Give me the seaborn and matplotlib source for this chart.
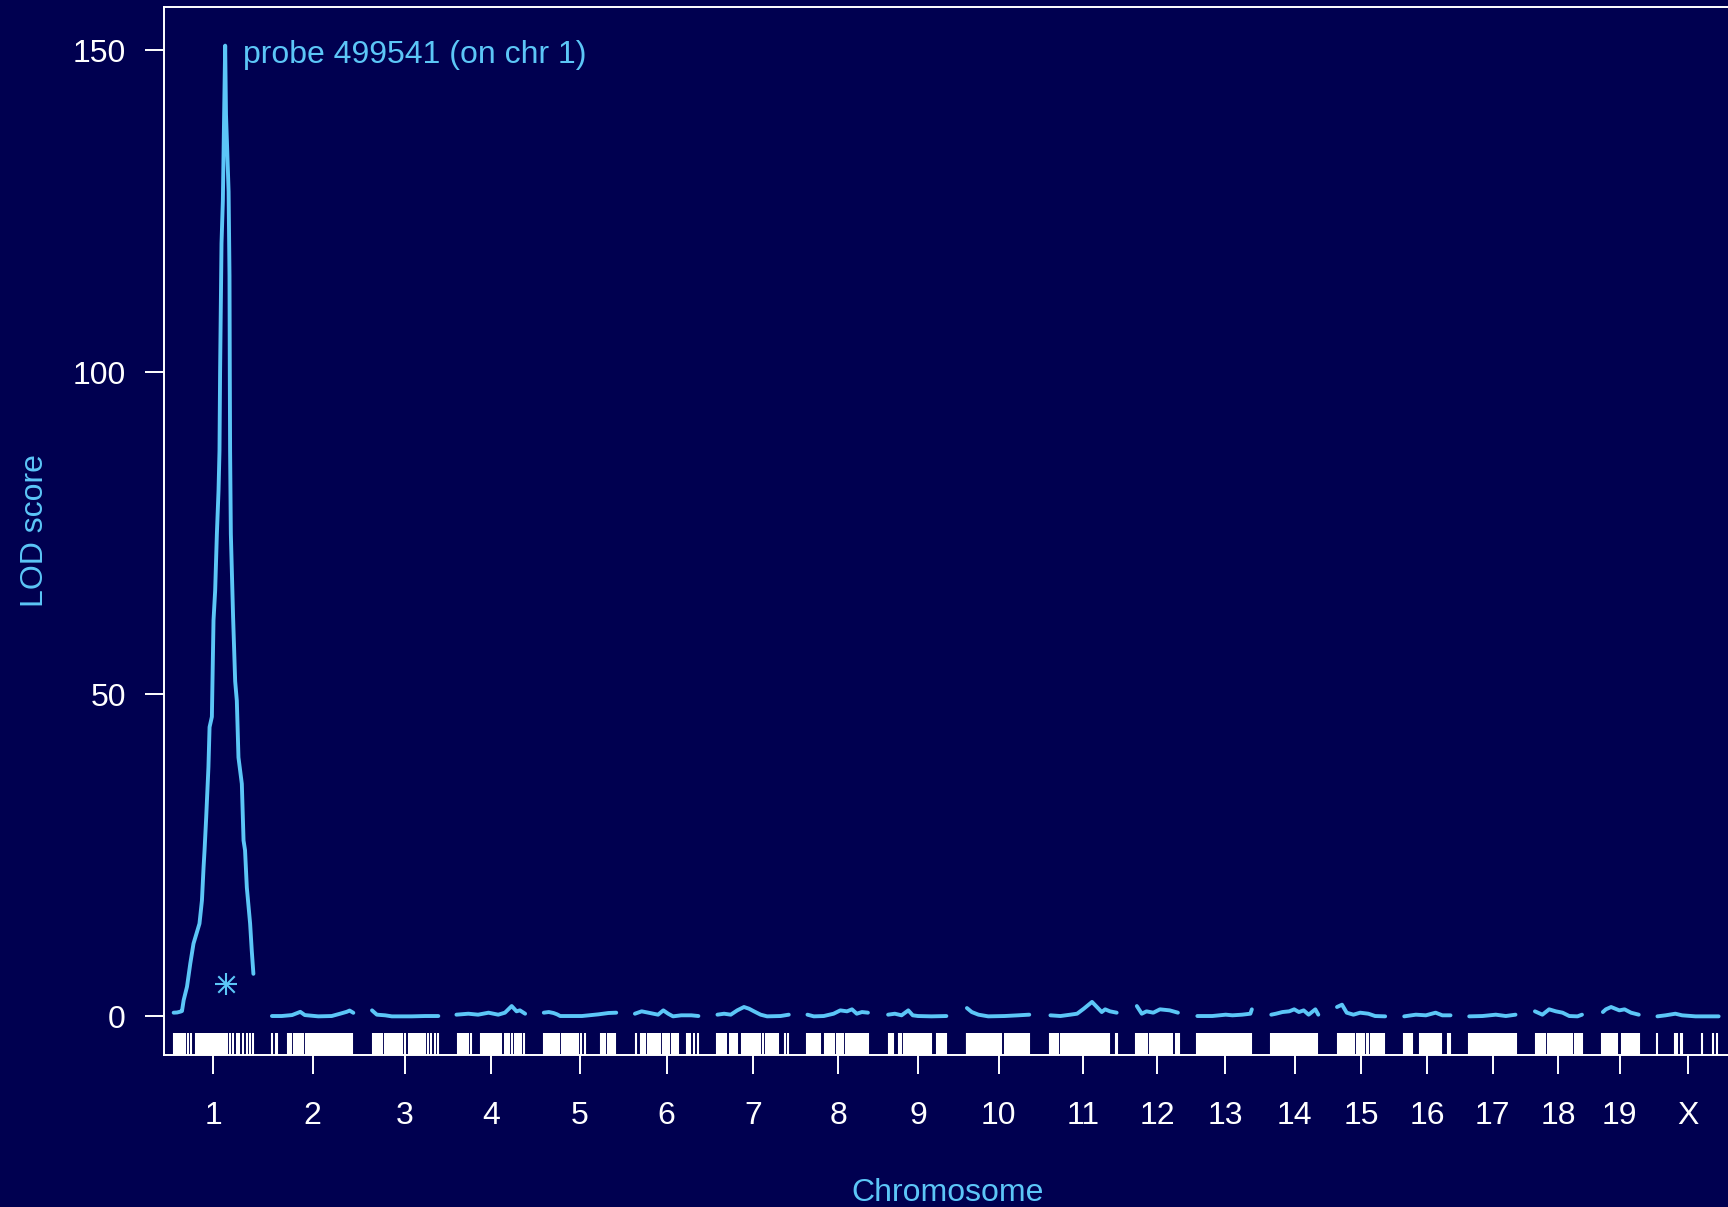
import numpy as np
import pandas as pd
import matplotlib
matplotlib.use('Agg')
import matplotlib.pyplot as plt
import seaborn as sns

bg = '#000050'
fg = 'white'
hl = '#5cc6f7'

chroms = ['1', '2', '3', '4', '5', '6', '7', '8', '9', '10',
          '11', '12', '13', '14', '15', '16', '17', '18', '19', 'X']
chr_len = [107, 109, 88, 92, 97, 85, 96, 83, 80, 86,
           91, 57, 74, 63, 65, 62, 63, 63, 51, 82]
gap = 25

# LOD profile, positions in cM within each chromosome
pos_1 = [0.4, 5, 10, 11.6, 13.8, 18.3, 22.7, 27, 35, 38.3, 40.5, 41.8, 44, 47, 48.5, 51.6,
         53.8, 56, 58.3, 60.5, 61.8, 62.6, 64.5, 66.3, 68, 69.4, 70.5, 72, 74, 75.2, 75.6,
         76, 77, 80, 82.8, 85, 87.2, 91.7, 94, 96, 98.4, 102.8, 105, 107.2]
lod_1 = [0.57, 0.6, 0.75, 0.83, 2.5, 4.6, 8.2, 11.3, 14.4, 18, 23.2, 25.8, 30.9, 38.7, 44.9, 46.5,
         61.5, 66.1, 74.9, 81.6, 87.8, 100, 120, 126.6, 140, 150.7, 140, 135, 128, 115, 100,
         87.8, 74.9, 62, 52, 49, 40.2, 36.1, 27.3, 25.8, 20, 14.4, 10.2, 6.6]
pos_2 = [0, 13, 27, 38, 44, 62, 80, 91, 100, 104, 109]
lod_2 = [0.05, 0.05, 0.2, 0.7, 0.2, 0, 0.05, 0.4, 0.7, 0.9, 0.55]
pos_3 = [0, 6.5, 17.6, 26.5, 53, 71, 88.8]
lod_3 = [0.93, 0.26, 0.16, 0, 0, 0.05, 0.05]
pos_4 = [0, 16, 29, 43, 56, 65, 74, 80.5, 85, 92]
lod_4 = [0.26, 0.41, 0.26, 0.57, 0.26, 0.57, 1.6, 0.78, 0.93, 0.41]
pos_5 = [0, 6.7, 13, 17.8, 22, 51, 73, 86.5, 97]
lod_5 = [0.57, 0.67, 0.52, 0.31, 0.05, 0.05, 0.31, 0.52, 0.57]
pos_6 = [0, 9, 18, 31, 38, 44.5, 51, 62, 75.6, 85]
lod_6 = [0.41, 0.78, 0.57, 0.26, 0.93, 0.41, 0, 0.16, 0.16, 0.05]
pos_7 = [0.5, 9.4, 18.3, 27, 36, 42.7, 49.4, 58.3, 67, 85, 96]
lod_7 = [0.26, 0.41, 0.26, 0.93, 1.45, 1.19, 0.78, 0.26, 0, 0.05, 0.26]
pos_8 = [0, 8.5, 21.8, 35, 44, 53, 59.6, 66, 73, 81]
lod_8 = [0.26, 0, 0.05, 0.41, 0.93, 0.78, 1.09, 0.41, 0.67, 0.57]
pos_9 = [0, 9, 18, 27, 33, 40, 58, 78]
lod_9 = [0.26, 0.41, 0.16, 0.93, 0.16, 0.05, 0, 0.05]
pos_10 = [0.5, 7, 16, 29, 51, 69, 84]
lod_10 = [1.29, 0.67, 0.26, 0, 0.05, 0.16, 0.26]
pos_11 = [1.3, 14.7, 28, 37, 46, 57, 63.6, 70, 74.6, 81, 90]
lod_11 = [0.16, 0.05, 0.26, 0.41, 1.19, 2.24, 1.45, 0.67, 1.09, 0.78, 0.57]
pos_12 = [1, 7.6, 14, 23, 32, 45, 56]
lod_12 = [1.6, 0.41, 0.78, 0.57, 1.09, 0.93, 0.57]
pos_13 = [0, 20, 38, 47, 60, 71, 73]
lod_13 = [0.05, 0.05, 0.26, 0.16, 0.26, 0.41, 1.09]
pos_14 = [0, 6.3, 15, 24, 30.7, 37, 43.4, 50, 59, 63]
lod_14 = [0.26, 0.41, 0.67, 0.78, 1.09, 0.67, 0.93, 0.26, 1.09, 0.26]
pos_15 = [0, 6.7, 13, 22, 31, 42, 51, 64.5]
lod_15 = [1.45, 1.81, 0.57, 0.26, 0.57, 0.41, 0.05, 0]
pos_16 = [0, 15.6, 29, 42, 51, 62]
lod_16 = [0, 0.26, 0.16, 0.57, 0.16, 0.16]
pos_17 = [0, 17.8, 35.6, 49, 62]
lod_17 = [0, 0.05, 0.26, 0.05, 0.26]
pos_18 = [0, 10, 19, 28, 37, 46, 57, 63]
lod_18 = [0.78, 0.26, 1.09, 0.78, 0.57, 0.05, 0, 0.26]
pos_19 = [3, 7, 14, 25, 32, 40.6, 51]
lod_19 = [0.67, 1.09, 1.45, 0.93, 1.09, 0.57, 0.26]
pos_X = [0, 11, 24, 33, 51, 82]
lod_X = [0, 0.16, 0.41, 0.16, 0, 0]

# genotyped marker positions (cM)
mk_1 = [1, 3, 5, 7, 9, 11, 13, 16, 20, 23, 30, 32, 34, 36, 38, 41, 43, 45, 47, 49, 51, 53, 55,
        57, 59, 61, 63, 65, 67, 69, 72, 76, 80, 85, 88, 93, 99, 103, 107]
mk_2 = [0, 5, 7, 22, 24, 26, 30, 32, 34, 36, 38, 40, 42, 45, 47, 49, 51, 53, 55, 58, 61, 63, 65,
        67, 69, 71, 73, 75, 77, 79, 81, 83, 85, 87, 89, 91, 93, 95, 97, 99, 102, 105, 107]
mk_3 = [1, 3, 5, 7, 9, 11, 13, 17, 20, 22, 24, 26, 28, 31, 33, 35, 37, 40, 44, 49, 51, 53, 55,
        58, 60, 62, 64, 66, 68, 71, 75, 79, 84, 88]
mk_4 = [2, 4, 6, 8, 10, 12, 14, 16, 20, 33, 35, 38, 41, 43, 45, 47, 49, 51, 53, 55, 57, 60, 65,
        67, 69, 71, 74, 79, 81, 83, 85, 87, 91]
mk_5 = [0, 2, 4, 6, 8, 10, 12, 14, 16, 18, 20, 24, 26, 28, 30, 32, 34, 36, 38, 40, 42, 44, 46,
        50, 55, 77, 79, 82, 86, 88, 90, 92, 95]
mk_6 = [1, 8, 10, 12, 14, 17, 19, 21, 23, 25, 27, 29, 31, 34, 37, 40, 43, 46, 49, 52, 55, 58,
        70, 72, 74, 79, 84]
mk_7 = [0, 2, 4, 6, 8, 10, 12, 17, 19, 21, 23, 25, 27, 34, 36, 38, 40, 42, 44, 46, 48, 50, 52,
        54, 56, 58, 61, 65, 67, 69, 71, 73, 75, 77, 79, 81, 91, 95]
mk_8 = [0, 2, 4, 6, 8, 10, 12, 14, 17, 23, 25, 27, 29, 31, 33, 35, 39, 41, 43, 45, 48, 51, 53,
        55, 57, 59, 61, 63, 66, 68, 70, 72, 74, 76, 78, 81]
mk_9 = [1, 3, 5, 7, 14, 17, 21, 23, 25, 27, 29, 31, 33, 35, 37, 39, 41, 43, 45, 47, 49, 51, 53,
        55, 57, 65, 67, 69, 71, 73, 75, 78]
mk_10 = [0, 1, 2, 3, 5, 6, 7, 9, 10, 11, 13, 14, 15, 18, 20, 22, 24, 26, 28, 30, 32, 34, 36, 38,
         40, 42, 44, 46, 52, 54, 56, 58, 60, 62, 64, 66, 69, 71, 73, 75, 77, 79, 81, 84]
mk_11 = [1, 3, 5, 7, 9, 11, 16, 18, 20, 22, 24, 26, 28, 30, 32, 34, 36, 38, 40, 42, 45, 47, 49,
         51, 53, 55, 57, 59, 61, 63, 65, 67, 69, 71, 73, 75, 77, 80, 89, 91]
mk_12 = [0, 2, 4, 6, 8, 10, 12, 15, 18, 20, 22, 24, 26, 28, 30, 32, 34, 36, 38, 40, 42, 44, 46,
         48, 53, 55, 57]
mk_13 = [0, 2, 4, 6, 8, 10, 12, 14, 16, 18, 20, 22, 24, 26, 28, 30, 32, 34, 36, 38, 40, 42, 44,
         46, 48, 50, 52, 54, 56, 59, 61, 63, 65, 68, 70, 72]
mk_14 = [0, 2, 5, 7, 9, 11, 13, 15, 17, 19, 21, 23, 25, 27, 29, 31, 33, 35, 37, 39, 41, 43, 45,
         47, 49, 51, 53, 55, 57, 59, 61]
mk_15 = [2, 4, 6, 8, 10, 12, 14, 16, 18, 20, 23, 27, 29, 31, 33, 36, 40, 42, 45, 48, 50, 52, 54,
         56, 58, 60, 63]
mk_16 = [0, 2, 4, 6, 8, 10, 21, 23, 25, 27, 29, 31, 33, 35, 37, 39, 41, 43, 45, 47, 49, 59, 61]
mk_17 = [0, 2, 4, 6, 8, 10, 12, 14, 16, 18, 20, 22, 24, 26, 28, 30, 32, 34, 36, 38, 40, 42, 44,
         46, 48, 50, 52, 54, 56, 58, 60, 62]
mk_18 = [1, 3, 5, 7, 9, 11, 14, 17, 19, 21, 23, 25, 28, 30, 32, 34, 36, 38, 40, 42, 44, 46, 48,
         50, 53, 55, 57, 59, 61, 63]
mk_19 = [2, 4, 6, 8, 10, 13, 15, 17, 19, 22, 29, 31, 33, 35, 37, 39, 41, 43, 45, 47, 49, 51]
mk_X = [0, 24, 26, 31, 33, 60, 75, 80]

lod_pos = [pos_1, pos_2, pos_3, pos_4, pos_5, pos_6, pos_7, pos_8, pos_9, pos_10,
           pos_11, pos_12, pos_13, pos_14, pos_15, pos_16, pos_17, pos_18, pos_19, pos_X]
lod_val = [lod_1, lod_2, lod_3, lod_4, lod_5, lod_6, lod_7, lod_8, lod_9, lod_10,
           lod_11, lod_12, lod_13, lod_14, lod_15, lod_16, lod_17, lod_18, lod_19, lod_X]
markers = [mk_1, mk_2, mk_3, mk_4, mk_5, mk_6, mk_7, mk_8, mk_9, mk_10,
           mk_11, mk_12, mk_13, mk_14, mk_15, mk_16, mk_17, mk_18, mk_19, mk_X]

probe_pos = 70.8   # chr 1
probe_lod = 5
probe_label = 'probe 499541 (on chr 1)'

# chromosome offsets along the genome axis
starts = np.concatenate([[0], np.cumsum(np.array(chr_len) + gap)[:-1]])
mids = starts + np.array(chr_len) / 2
total = starts[-1] + chr_len[-1]

lod_df = pd.concat([pd.DataFrame({'chr': c, 'gpos': np.array(p) + s, 'lod': v})
                    for c, p, v, s in zip(chroms, lod_pos, lod_val, starts)], ignore_index=True)
mk_df = pd.concat([pd.DataFrame({'chr': c, 'gpos': np.array(m) + s})
                   for c, m, s in zip(chroms, markers, starts)], ignore_index=True)

sns.set_style('ticks', {'axes.facecolor': bg, 'figure.facecolor': bg,
                        'axes.edgecolor': fg, 'xtick.color': fg, 'ytick.color': fg,
                        'text.color': hl, 'axes.labelcolor': hl})
plt.rcParams['font.family'] = ['Liberation Sans', 'DejaVu Sans']

fs = 23
fig = plt.figure(figsize=(17.28, 12.07), dpi=100, facecolor=bg)
ax = fig.add_axes([164 / 1728, 1 - 1055 / 1207, 1 - 164 / 1728, (1055 - 7) / 1207])
ax.set_facecolor(bg)

sns.lineplot(data=lod_df, x='gpos', y='lod', units='chr', estimator=None, sort=False,
             color=hl, lw=2.8, ax=ax, legend=False)
sns.rugplot(data=mk_df, x='gpos', height=0.021, color=fg, linewidth=1.5, alpha=1,
            expand_margins=False, ax=ax)

ax.scatter([probe_pos], [probe_lod], marker='+', s=240, color=hl, linewidths=1.5, zorder=5)
ax.scatter([probe_pos], [probe_lod], marker='x', s=140, color=hl, linewidths=1.5, zorder=5)
ax.text(92.7, 149.2, probe_label, color=hl, fontsize=fs, ha='left', va='center')

ax.set_xlim(-gap / 2, total + gap / 2)
ax.set_ylim(-6.0, 156.7)
ax.set_xticks(mids)
ax.set_xticklabels(chroms)
ax.set_yticks([0, 50, 100, 150])

for side in ['left', 'top', 'bottom']:
    ax.spines[side].set_color(fg)
    ax.spines[side].set_linewidth(1.4)
ax.spines['right'].set_visible(False)
ax.tick_params(axis='x', length=14, width=1.4, pad=19, labelsize=fs, colors=fg)
ax.tick_params(axis='y', length=14, width=1.4, pad=13.5, labelsize=fs, colors=fg)

ax.set_xlabel('Chromosome', fontsize=fs, color=hl)
ax.set_ylabel('LOD score', fontsize=fs, color=hl)
ax.xaxis.set_label_coords(0.501, -0.117)
ax.yaxis.set_label_coords(-0.073, 0.5)

fig.savefig('out.png', dpi=100, facecolor=bg)
